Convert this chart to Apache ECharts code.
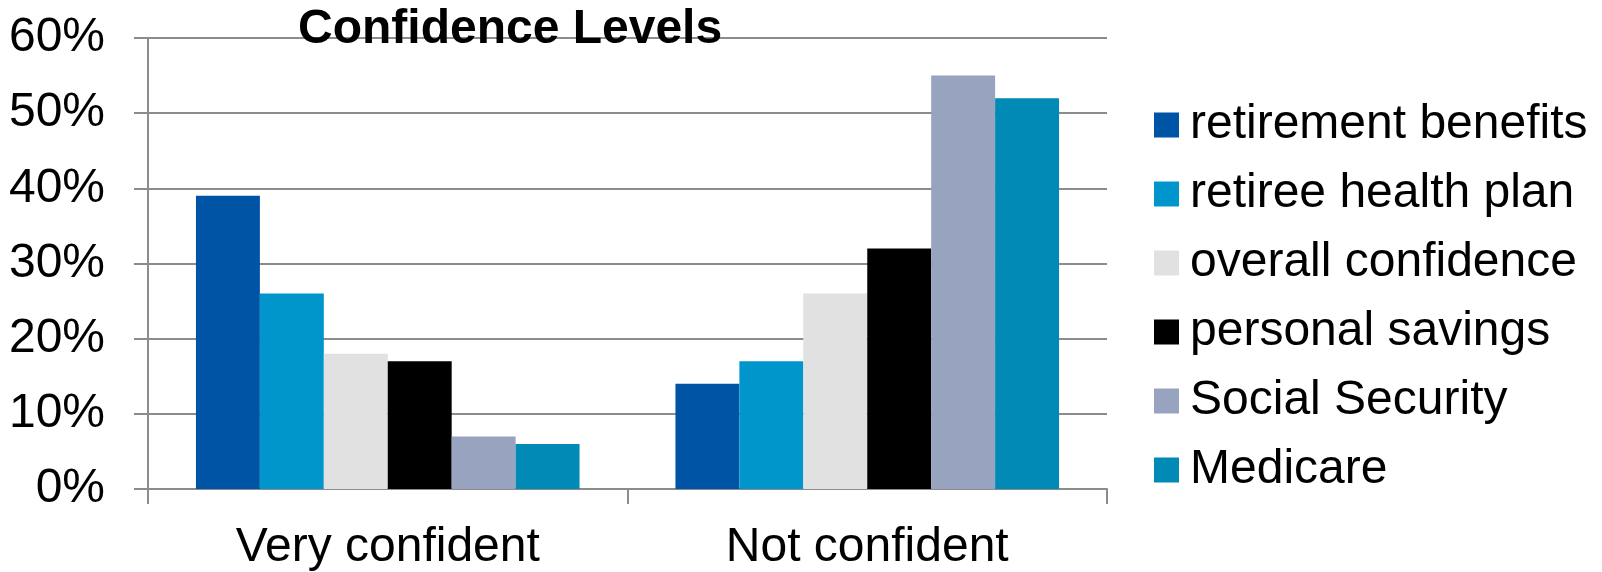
<!DOCTYPE html>
<html>
<head>
<meta charset="utf-8">
<script src="https://cdn.jsdelivr.net/npm/echarts@6/dist/echarts.min.js"></script>
<style>
html,body{margin:0;padding:0;background:#fff;}
#c{width:1602px;height:572px;}
</style>
</head>
<body>
<div id="c"></div>
<script>
const categories = ['Very confident', 'Not confident'];
const seriesNames = ['retirement benefits', 'retiree health plan', 'overall confidence', 'personal savings', 'Social Security', 'Medicare'];
const retirementBenefits = [39, 14];
const retireeHealthPlan = [26, 17];
const overallConfidence = [18, 26];
const personalSavings = [17, 32];
const socialSecurity = [7, 55];
const medicare = [6, 52];
const colors = ['#0054A6', '#0096CB', '#E1E1E1', '#000000', '#98A3C0', '#008AB5'];
const allValues = [retirementBenefits, retireeHealthPlan, overallConfidence, personalSavings, socialSecurity, medicare];

const FONT = '"Liberation Sans", Arial, sans-serif';
const chart = echarts.init(document.getElementById('c'));
chart.setOption({
  animation: false,
  color: colors,
  title: {
    text: 'Confidence Levels',
    left: 298, top: 6, padding: 0,
    textStyle: { fontFamily: FONT, fontSize: 48, fontWeight: 'bold', color: '#000' }
  },
  legend: {
    orient: 'vertical',
    left: 1154, top: 101,
    icon: 'rect',
    itemWidth: 25, itemHeight: 25,
    itemGap: 21,
    padding: 0,
    data: seriesNames,
    textStyle: { fontFamily: FONT, fontSize: 48, lineHeight: 48, color: '#000', padding: [0, 0, 0, 6] }
  },
  grid: { left: 148, right: 495, top: 38, bottom: 80 },
  xAxis: {
    type: 'category',
    data: categories,
    axisLine: { lineStyle: { color: '#8C8C8C', width: 2 } },
    axisTick: { show: true, length: 15, lineStyle: { color: '#8C8C8C', width: 2 } },
    axisLabel: { fontFamily: FONT, fontSize: 48, color: '#000', margin: 35 }
  },
  yAxis: {
    type: 'value',
    min: 0, max: 60, interval: 10,
    axisLine: { show: true, lineStyle: { color: '#8C8C8C', width: 2 } },
    axisTick: { show: true, length: 14, lineStyle: { color: '#8C8C8C', width: 2 } },
    splitLine: { lineStyle: { color: '#8C8C8C', width: 2 } },
    axisLabel: { fontFamily: FONT, fontSize: 48, color: '#000', margin: 43, formatter: '{value}%' }
  },
  series: seriesNames.map((n, i) => ({
    name: n,
    type: 'bar',
    data: allValues[i],
    barGap: '0%',
    barCategoryGap: '20%'
  }))
});
</script>
</body>
</html>
